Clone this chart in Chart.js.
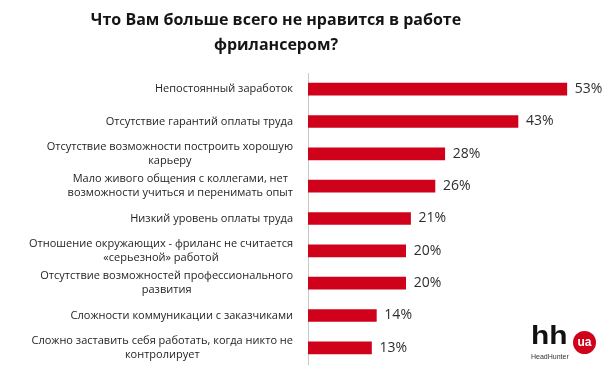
<!DOCTYPE html>
<html>
<head>
<meta charset="utf-8">
<script src="https://cdn.jsdelivr.net/npm/chart.js@4.4.1/dist/chart.umd.min.js"></script>
<style>
  html, body { margin: 0; padding: 0; background: #fff; }
  #wrap { position: relative; width: 610px; height: 375px; overflow: hidden; }
  #title {
    position: absolute; left: 76px; width: 400px; top: 7px;
    text-align: center; font-family: "Open Sans", sans-serif; font-weight: 700;
    font-size: 16px; line-height: 25px; color: #151515;
  }
  #logo { position: absolute; left: 529px; top: 316px; width: 80px; height: 50px; }
  #logo .hh { position: absolute; left: 2px; top: 6px; font-family: "Liberation Sans", Arial, sans-serif;
    font-weight: 700; font-size: 26px; line-height: 26px; color: #111;
    transform: scaleX(1.15); transform-origin: left center; }
  #logo .ua { position: absolute; left: 44px; top: 15px; width: 23px; height: 23px; border-radius: 50%;
    background: #d0021b; color: #fff; font-family: "Liberation Sans", Arial, sans-serif; font-weight: 700;
    font-size: 12px; line-height: 22px; text-align: center; }
  #logo .sub { position: absolute; left: 2px; top: 37px; font-family: "Liberation Sans", Arial, sans-serif;
    font-size: 7px; color: #333; }
</style>
</head>
<body>
<div id="wrap">
  <canvas id="chart" width="610" height="375"></canvas>
  <div id="title">Что Вам больше всего не нравится в работе<br>фрилансером?</div>
  <div id="logo"><span class="hh">hh</span><span class="ua">ua</span><span class="sub">HeadHunter</span></div>
</div>
<script>
// категории (строки подписи)
const categories = [
  ["Непостоянный заработок"],
  ["Отсутствие гарантий оплаты труда"],
  ["Отсутствие возможности построить хорошую", "карьеру"],
  ["Мало живого общения с коллегами, нет", "возможности учиться и перенимать опыт"],
  ["Низкий уровень оплаты труда"],
  ["Отношение окружающих - фриланс не считается", "«серьезной» работой"],
  ["Отсутствие возможностей профессионального", "развития"],
  ["Сложности коммуникации с заказчиками"],
  ["Сложно заставить себя работать, когда никто не", "контролирует"]
];
const values = [53, 43, 28, 26, 21, 20, 20, 14, 13];
const valueLabels = values.map(v => v + "%");

const barColor = "#d0021b";

// подписи категорий: блок справа, строки по центру
const categoryLabels = {
  id: "categoryLabels",
  afterDraw(chart) {
    const ctx = chart.ctx;
    const y = chart.scales.y;
    const right = 293;
    const lh = 14;
    ctx.save();
    ctx.font = "11px 'Open Sans', sans-serif";
    ctx.fillStyle = "#1e1e1e";
    ctx.textAlign = "center";
    ctx.textBaseline = "middle";
    categories.forEach((lines, i) => {
      const cy = y.getPixelForValue(i);
      const w = Math.max(...lines.map(l => ctx.measureText(l).width));
      const cx = right - w / 2;
      const top = cy - (lines.length - 1) * lh / 2;
      lines.forEach((l, j) => ctx.fillText(l, cx, top + j * lh));
    });
    ctx.restore();
  }
};

// значения справа от столбцов
const valueText = {
  id: "valueText",
  afterDatasetsDraw(chart) {
    const ctx = chart.ctx;
    const meta = chart.getDatasetMeta(0);
    ctx.save();
    ctx.font = "14px 'Open Sans', sans-serif";
    ctx.fillStyle = "#2e2e2e";
    ctx.textAlign = "left";
    ctx.textBaseline = "middle";
    meta.data.forEach((bar, i) => {
      ctx.fillText(valueLabels[i], bar.x + 8, bar.y);
    });
    ctx.restore();
  }
};

new Chart(document.getElementById("chart"), {
  type: "bar",
  data: {
    labels: categories.map(c => c.join(" ")),
    datasets: [{
      data: values,
      backgroundColor: barColor,
      borderWidth: 0,
      barThickness: 12
    }]
  },
  options: {
    indexAxis: "y",
    responsive: false,
    animation: false,
    layout: { padding: { top: 73, bottom: 11, right: 9, left: 0 } },
    plugins: { legend: { display: false }, tooltip: { enabled: false } },
    scales: {
      x: { display: false, min: 0, max: 60 },
      y: {
        ticks: { display: false },
        grid: { display: true, drawOnChartArea: false, drawTicks: false },
        border: { display: true, color: "#c8c8c8", width: 1 },
        afterFit(scale) { scale.width = 308; }
      }
    }
  },
  plugins: [categoryLabels, valueText]
});
</script>
</body>
</html>
